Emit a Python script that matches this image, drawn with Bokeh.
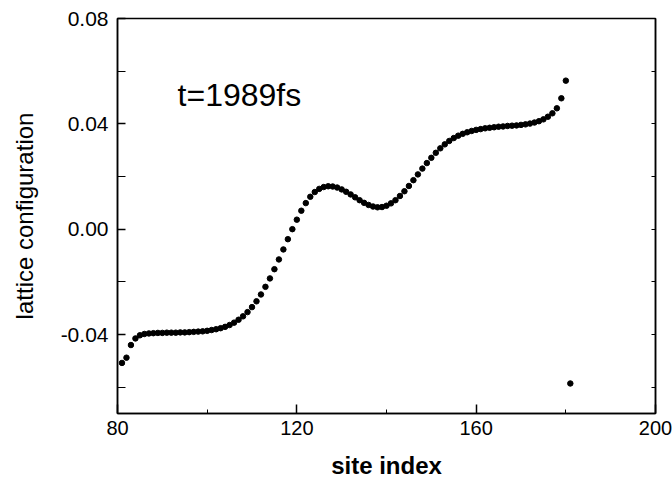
from bokeh.plotting import figure
from bokeh.models import Range1d, FixedTicker, PrintfTickFormatter, LinearAxis, Label, ColumnDataSource
from bokeh.embed import file_html
from bokeh.resources import INLINE

# ---- data ----
site = list(range(81, 182))
config = [
    -0.0508, -0.0488, -0.0440, -0.0415, -0.0403, -0.0398, -0.0396, -0.0395, -0.0394, -0.0394,
    -0.0393, -0.0393, -0.0393, -0.0392, -0.0392, -0.0391, -0.0390, -0.0389, -0.0388, -0.0386,
    -0.0383, -0.0380, -0.0376, -0.0371, -0.0364, -0.0355, -0.0344, -0.0331, -0.0315, -0.0296,
    -0.0274, -0.0248, -0.0219, -0.0187, -0.0152, -0.0115, -0.0077, -0.0038, 0.0000, 0.0036,
    0.0070, 0.0099, 0.0123, 0.0141, 0.0153, 0.0160, 0.0163, 0.0162, 0.0158, 0.0151,
    0.0142, 0.0132, 0.0121, 0.0110, 0.0100, 0.0092, 0.0086, 0.0083, 0.0084, 0.0089,
    0.0098, 0.0110, 0.0126, 0.0144, 0.0164, 0.0186, 0.0208, 0.0230, 0.0251, 0.0271,
    0.0290, 0.0307, 0.0322, 0.0335, 0.0346, 0.0355, 0.0362, 0.0368, 0.0373, 0.0377,
    0.0380, 0.0383, 0.0385, 0.0387, 0.0389, 0.0390, 0.0392, 0.0393, 0.0394, 0.0396,
    0.0398, 0.0401, 0.0405, 0.0410, 0.0417, 0.0427, 0.0440, 0.0459, 0.0497, 0.0564,
    -0.0586,
]
x_major = [80, 120, 160, 200]
x_minor = [100, 140, 180]
y_major = [-0.04, 0.0, 0.04, 0.08]
y_minor = [-0.06, -0.02, 0.02, 0.06]
annotation = "t=1989fs"

FONT = "Liberation Sans"

p = figure(width=672, height=482, output_backend="svg", toolbar_location=None,
           x_range=Range1d(80, 200), y_range=Range1d(-0.07, 0.08),
           min_border_left=117, min_border_right=17, min_border_top=18, min_border_bottom=69)
p.grid.visible = False
p.background_fill_color = "white"
p.border_fill_color = "white"
p.outline_line_color = "black"
p.outline_line_width = 1.5

src = ColumnDataSource(dict(site=site, config=config))
p.scatter("site", "config", source=src, size=5.5, color="black", line_color="black")

# bottom axis
xa = p.xaxis[0]
xa.ticker = FixedTicker(ticks=x_major, minor_ticks=x_minor)
xa.major_tick_in = 9
xa.major_tick_out = 0
xa.minor_tick_in = 4
xa.minor_tick_out = 0
xa.axis_line_width = 1.5
xa.major_tick_line_width = 1.5
xa.major_label_text_font = FONT
xa.major_label_text_font_size = "20px"
xa.major_label_text_color = "black"
xa.major_label_standoff = 7
xa.axis_label = "site index"
xa.axis_label_text_font = FONT
xa.axis_label_text_font_size = "24px"
xa.axis_label_text_font_style = "bold"
xa.axis_label_text_color = "black"
xa.axis_label_standoff = 14

# left axis
ya = p.yaxis[0]
ya.ticker = FixedTicker(ticks=y_major, minor_ticks=y_minor)
ya.formatter = PrintfTickFormatter(format="%.2f")
ya.major_tick_in = 8
ya.major_tick_out = 0
ya.minor_tick_in = 8
ya.minor_tick_out = 0
ya.axis_line_width = 1.5
ya.major_tick_line_width = 1.5
ya.major_label_text_font = FONT
ya.major_label_text_font_size = "21px"
ya.major_label_text_color = "black"
ya.major_label_standoff = 9
ya.axis_label = "lattice configuration"
ya.axis_label_text_font = FONT
ya.axis_label_text_font_size = "24px"
ya.axis_label_text_font_style = "normal"
ya.axis_label_text_color = "black"
ya.axis_label_standoff = 20

# right axis (ticks only)
ra = LinearAxis(ticker=FixedTicker(ticks=y_major, minor_ticks=y_minor))
ra.major_tick_in = 4
ra.major_tick_out = 0
ra.minor_tick_in = 4
ra.minor_tick_out = 0
ra.major_label_text_font_size = "1px"
ra.major_label_text_alpha = 0
ra.major_label_standoff = 0
ra.axis_line_width = 1.5
p.add_layout(ra, "right")

lab = Label(x=93.4, y=0.051, text=annotation, text_font=FONT, text_font_size="32px",
            text_color="black", text_baseline="alphabetic", text_align="left")
p.add_layout(lab)

open("out.html", "w").write(file_html(p, INLINE))
